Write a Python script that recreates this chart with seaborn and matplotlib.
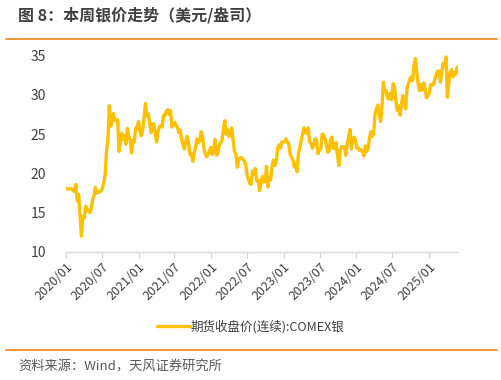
import numpy as np
import pandas as pd
import matplotlib
matplotlib.use("Agg")
import matplotlib.pyplot as plt
import matplotlib.dates as mdates
import seaborn as sns
from matplotlib.lines import Line2D

# Weekly values (USD/oz)
start_date = "2020-01-03"
prices = [
    # 2020
    18.1, 18.0, 18.0, 18.1, 18.0,
    17.8, 17.7, 18.6, 16.5,
    17.3, 14.7, 12.0, 14.5,
    14.3, 15.8, 15.4, 15.3,
    15.0, 15.5, 16.7, 17.1, 18.2,
    17.5, 17.7, 17.6, 17.8,
    18.1, 18.8, 19.8, 22.8, 24.4,
    28.6, 26.0, 26.7, 27.6,
    26.8, 26.7, 26.8, 22.8,
    24.0, 25.1, 24.3, 24.8, 23.7,
    25.7, 24.7, 24.2, 22.6,
    24.2, 24.0, 25.8, 25.8,
    # 2021
    26.6, 25.4, 24.8, 25.5, 27.0,
    28.9, 27.3, 27.6, 26.5,
    25.2, 26.2, 26.3, 25.0,
    24.0, 25.3, 25.9, 26.1, 25.9,
    27.4, 27.4, 27.9, 28.1,
    27.5, 28.0, 25.9, 26.1,
    26.5, 26.1, 25.8, 25.2, 25.5,
    24.3, 23.6, 23.1, 24.1,
    24.7, 23.8, 22.4, 22.5,
    21.5, 22.6, 23.3, 24.4, 23.9,
    24.1, 25.3, 24.7, 23.2,
    22.5, 22.1, 22.4, 22.9, 23.3,
    # 2022
    22.4, 23.0, 24.3, 22.3,
    22.5, 23.5, 23.9, 24.2,
    25.7, 26.7, 25.0, 25.6,
    24.7, 24.8, 25.8, 24.2, 22.8,
    22.4, 20.8, 21.7, 22.0,
    22.0, 21.8, 21.6, 21.1,
    19.8, 19.2, 18.7, 18.6, 20.3,
    19.9, 20.6, 19.0, 19.1,
    17.8, 18.8, 19.6, 18.9, 19.0,
    20.9, 18.3, 19.4, 19.2,
    20.9, 21.7, 21.0, 21.5,
    23.2, 23.6, 23.2, 24.0, 24.0,
    # 2023
    24.0, 24.4, 24.0, 23.7,
    22.4, 22.1, 21.7, 20.8,
    21.2, 20.2, 22.6, 23.3, 24.2,
    25.1, 25.8, 25.2, 25.1,
    25.8, 24.0, 23.8, 23.2,
    23.7, 24.4, 24.2, 22.5, 23.0,
    23.1, 25.0, 24.9, 24.4,
    23.7, 22.7, 22.8, 24.3,
    24.6, 23.2, 23.2, 23.9, 22.3,
    21.0, 22.9, 23.4, 23.3,
    23.4, 22.3, 23.8, 24.6,
    25.6, 23.1, 24.2, 24.6, 24.1,
    # 2024
    23.2, 23.2, 22.9, 23.0,
    22.7, 22.2, 23.5, 22.8,
    23.1, 24.5, 25.3, 24.7, 25.1,
    27.5, 28.2, 28.7, 27.4,
    26.6, 28.4, 31.6, 30.4, 30.5,
    29.6, 29.5, 30.2, 29.4,
    31.4, 31.0, 29.2, 28.0,
    28.6, 27.4, 28.9, 29.9, 29.2,
    28.2, 30.9, 31.4, 32.0,
    32.3, 31.8, 33.8, 34.6,
    32.8, 31.4, 30.5, 31.3, 30.6,
    31.5, 30.8, 29.6, 29.9,
    # 2025
    30.2, 31.3, 31.2, 31.3, 32.0,
    32.6, 33.0, 33.0, 31.6,
    33.0, 34.0, 33.6, 34.8,
    29.7, 31.5, 32.9, 33.2,
    32.3, 32.8, 32.6, 33.5, 33.2,
]
dates = pd.date_range(start_date, periods=len(prices), freq="7D")

y_ticks = [10, 15, 20, 25, 30, 35]
x_tick_labels = ["2020/01", "2020/07", "2021/01", "2021/07", "2022/01", "2022/07",
                 "2023/01", "2023/07", "2024/01", "2024/07", "2025/01"]
series_name = "期货收盘价(连续):COMEX银"
title_text = "图 8：本周银价走势（美元/盎司）"
source_text = "资料来源：Wind，天风证券研究所"

df = pd.DataFrame({"date": dates, "price": prices, "series": series_name})

sns.set_theme(style="white")
plt.rcParams["font.family"] = ["Noto Sans CJK SC", "DejaVu Sans"]

fig = plt.figure(figsize=(5.02, 3.80), dpi=100)
ax = fig.add_axes([0.131, 0.337, 0.782, 0.517])

sns.lineplot(data=df, x="date", y="price", hue="series", palette=["#FFC000"],
             linewidth=2.4, ax=ax, legend=False)

ax.set_ylim(10, 35)
ax.set_yticks(y_ticks)
ax.set_yticklabels([str(v) for v in y_ticks], fontsize=10, color="#404040")
tick_dates = [pd.Timestamp(s.replace("/", "-") + "-01") for s in x_tick_labels]
ax.set_xticks(tick_dates)
ax.set_xticklabels(x_tick_labels, rotation=45, ha="right", rotation_mode="anchor",
                   fontsize=9, color="#404040")
ax.set_xlim(pd.Timestamp("2020-01-01"), pd.Timestamp("2025-05-29"))
ax.set_xlabel("")
ax.set_ylabel("")

for s in ["top", "right", "left"]:
    ax.spines[s].set_visible(False)
ax.spines["bottom"].set_color("#D9D9D9")
ax.spines["bottom"].set_linewidth(1.0)
ax.tick_params(axis="x", which="major", length=4, color="#D9D9D9", width=1.0,
               bottom=True, pad=2)
ax.tick_params(axis="y", length=0, pad=14)
ax.grid(False)

# Legend
handle = Line2D([0], [0], color="#FFC000", linewidth=2.4)
fig.legend([handle], [series_name], loc="center", bbox_to_anchor=(0.5, 1 - 327 / 380),
           frameon=False, fontsize=9, handlelength=2.6, handletextpad=0.1,
           labelcolor="#404040")

# Title, separators, source
fig.text(18 / 502, 1 - 15 / 380, title_text, fontsize=11.5, fontweight="bold",
         color="#404040", ha="left", va="center")
fig.add_artist(Line2D([6 / 502, 497 / 502], [1 - 38.5 / 380] * 2, color="#F28C28",
                      linewidth=1.3, transform=fig.transFigure))
fig.add_artist(Line2D([6 / 502, 497 / 502], [1 - 350 / 380] * 2, color="#F28C28",
                      linewidth=1.3, transform=fig.transFigure))
fig.text(18 / 502, 1 - 367 / 380, source_text, fontsize=9.5, color="#595959",
         ha="left", va="center")

fig.savefig("out.png", dpi=100, facecolor="white")
